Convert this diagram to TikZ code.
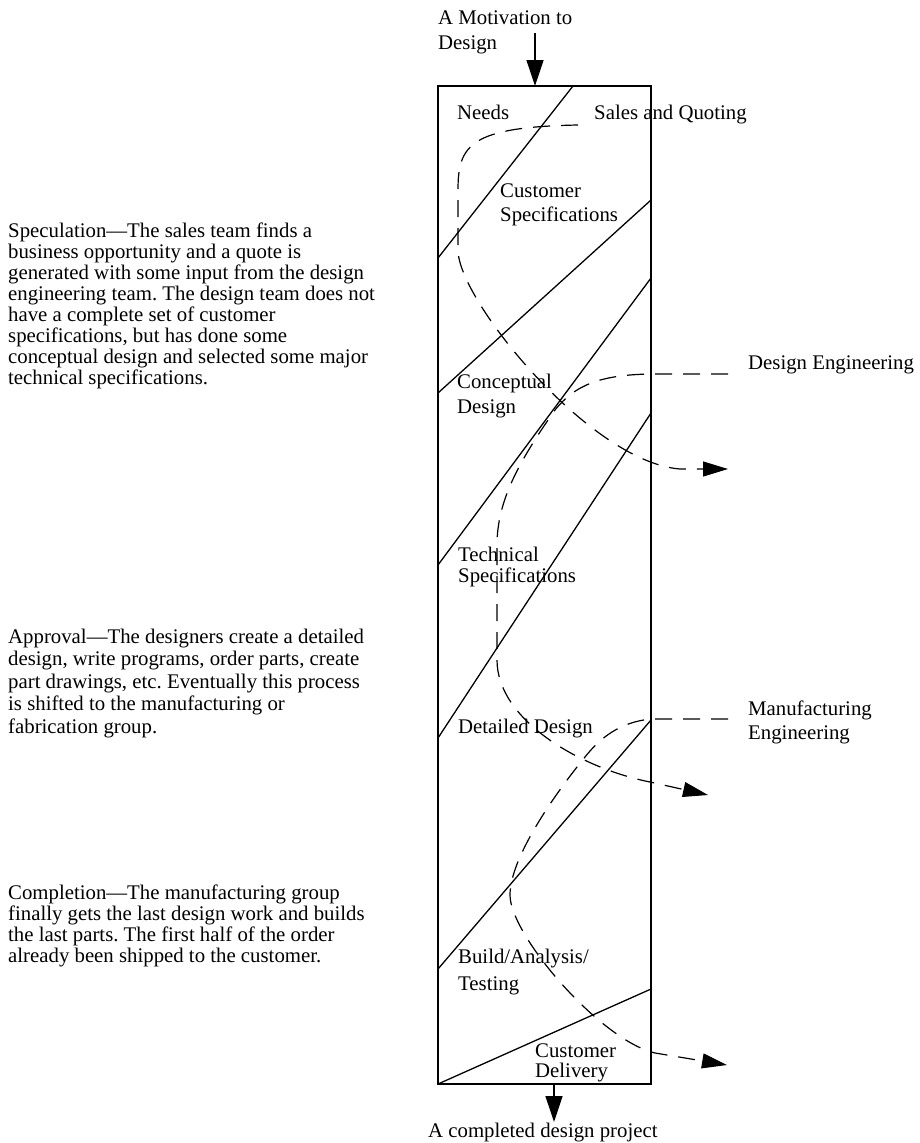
\documentclass[tikz,border=0pt]{standalone}
\usepackage{fontspec}
\setmainfont{Liberation Serif}
\usetikzlibrary{arrows.meta}
\frenchspacing
\begin{document}
\begin{tikzpicture}[x=1pt,y=-1pt,
  lbl/.style={anchor=base west, inner sep=0pt, align=left},
  txt/.style={font=\fontsize{20.8}{#1}\selectfont},
  frameline/.style={line width=1.3pt},
  dashflow/.style={line width=1.2pt, dash pattern=on 17pt off 11pt},
  tip/.style={-{Triangle[length=25pt,width=15pt]}}
]
\useasboundingbox (0,0) rectangle (920,1143);

% corners of the process column
\coordinate (TL) at (438,86);
\coordinate (BR) at (651,1084);
\coordinate (BL) at (438,1084);
\draw[frameline] (TL) rectangle (BR);

% phase boundaries
\coordinate (a1) at (573,86);  \coordinate (b1) at (438,258);
\coordinate (a2) at (651,200); \coordinate (b2) at (438,393);
\coordinate (a3) at (651,278); \coordinate (b3) at (438,565);
\coordinate (a4) at (651,413); \coordinate (b4) at (438,738);
\coordinate (a5) at (651,720); \coordinate (b5) at (438,969);
\coordinate (a6) at (651,989);
\draw[frameline] (a1) -- (b1);
\draw[frameline] (a2) -- (b2);
\draw[frameline] (a3) -- (b3);
\draw[frameline] (a4) -- (b4);
\draw[frameline] (a5) -- (b5);
\draw[frameline] (a6) -- (BL);

% input and output (multi-line nodes are placed by their last baseline)
\node[lbl, txt=25] (motiv) at (438,49) {A Motivation to\\Design};
\coordinate (inS) at (535,33);
\coordinate (inE) at (535,86);
\draw[line width=1.3pt, -{Triangle[length=26pt,width=17pt]}] (inS) -- (inE);
\coordinate (outS) at (554,1084);
\coordinate (outE) at (554,1122);
\draw[line width=1.3pt, -{Triangle[length=26pt,width=17pt]}] (outS) -- (outE);
\node[lbl, txt=24] (done) at (428,1137) {A completed design project};

% phase labels
\node[lbl, txt=24] (needs) at (457,119) {Needs};
\node[lbl, txt=24] (sales) at (594,119) {Sales and Quoting};
\node[lbl, txt=24] (cspec) at (500,221) {Customer\\Specifications};
\node[lbl, txt=25] (concept) at (457,413) {Conceptual\\Design};
\node[lbl, txt=24] (deseng) at (748,369) {Design Engineering};
\node[lbl, txt=21] (tspec) at (458,582) {Technical\\Specifications};
\node[lbl, txt=24] (detail) at (458,733) {Detailed Design};
\node[lbl, txt=24] (mfg) at (748,739) {Manufacturing\\Engineering};
\node[lbl, txt=27] (build) at (458,990) {Build/Analysis/\\Testing};
\node[lbl, txt=20] (deliv) at (535,1077) {Customer\\Delivery};

% stage descriptions
\node[lbl, txt=21.05] (spec) at (8,384.4) {Speculation—The sales team finds a\\business opportunity and a quote is\\generated with some input from the design\\engineering team. The design team does not\\have a complete set of customer\\specifications, but has done some\\conceptual design and selected some major\\technical specifications.};
\node[lbl, txt=22.5] (appr) at (8,733) {Approval—The designers create a detailed\\design, write programs, order parts, create\\part drawings, etc. Eventually this process\\is shifted to the manufacturing or\\fabrication group.};
\node[lbl, txt=20.7] (compl) at (8,962) {Completion—The manufacturing group\\finally gets the last design work and builds\\the last parts. The first half of the order\\already been shipped to the customer.};

% involvement of each group
\coordinate (s0) at (578,125);
\coordinate (s1) at (728,469);
\draw[dashflow, tip] (s0) .. controls (470,127) and (458,145) .. (458,190)
  -- (458,250) .. controls (458,300) and (590,462) .. (680,469) -- (s1);

\coordinate (d0) at (728,374);
\coordinate (d1) at (708,795);
\draw[dashflow, tip] (d0) -- (650,374) .. controls (600,375) and (575,385) .. (555,410)
  .. controls (520,460) and (497,500) .. (497,545) -- (497,660)
  .. controls (497,720) and (580,768) .. (650,782) -- (d1);

\coordinate (m0) at (728,719);
\coordinate (m1) at (727,1065);
\draw[dashflow, tip] (m0) -- (651,719) .. controls (620,722) and (600,738) .. (585,757)
  .. controls (550,800) and (510,860) .. (510,895)
  .. controls (510,935) and (600,1040) .. (655,1053) -- (m1);
\end{tikzpicture}
\end{document}
